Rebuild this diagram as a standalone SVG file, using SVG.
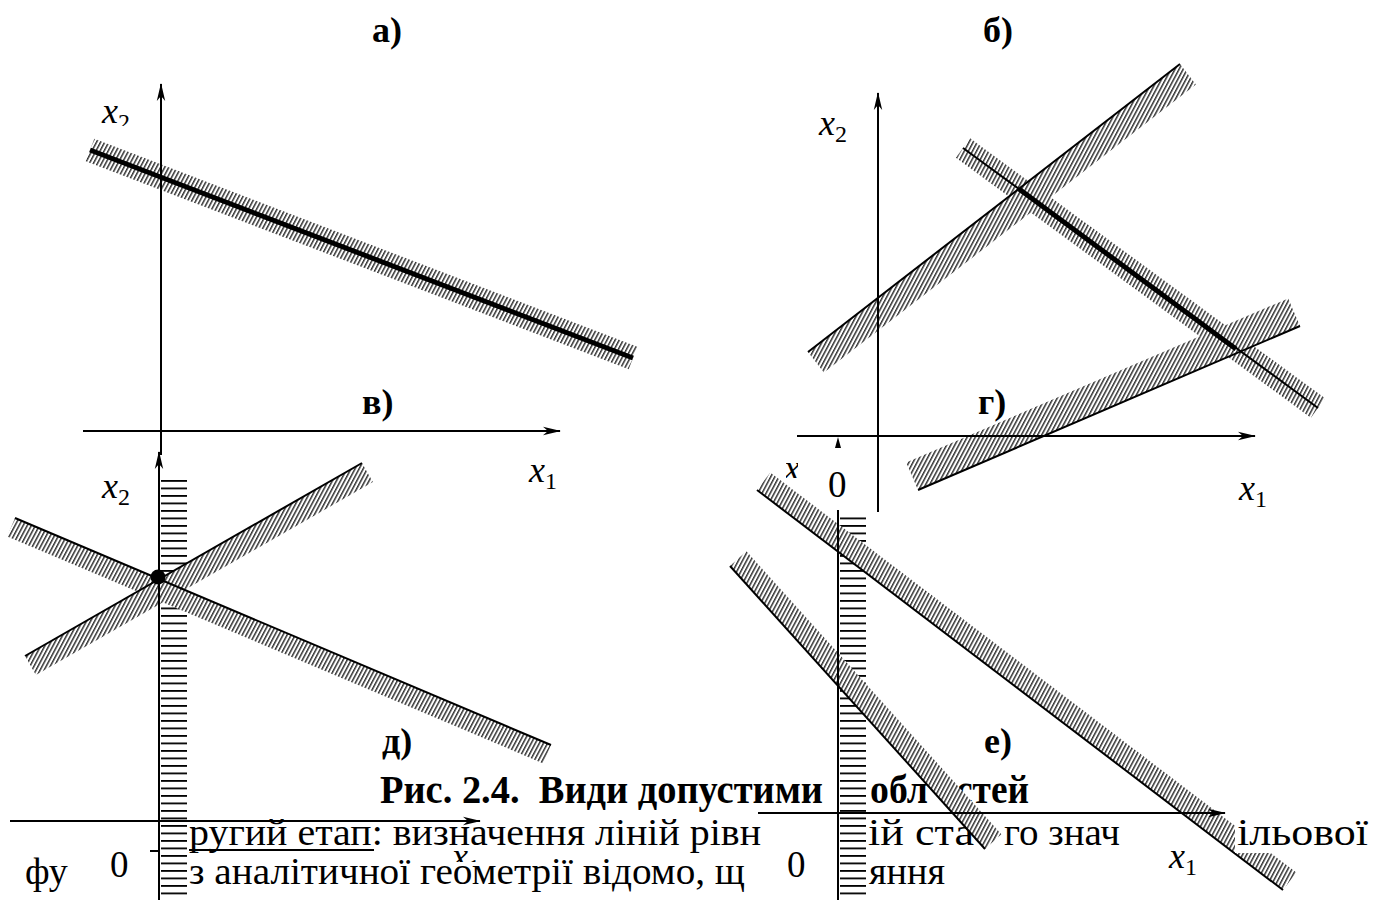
<svg xmlns="http://www.w3.org/2000/svg" width="1374" height="900" viewBox="0 0 1374 900">
<style>
.t{font-family:"Liberation Serif","Times New Roman",serif;fill:#000}
.lab{font-size:36px;font-weight:bold}
.ax{font-size:36px;font-style:italic}
.sub{font-size:24px;font-style:normal}
.num{font-size:37px}
.body{font-size:38px}
.cap{font-size:40px;font-weight:bold;white-space:pre}
.axis{stroke:#000;stroke-width:2;fill:none;marker-end:url(#arr)}
.thin{stroke:#000;stroke-width:2;fill:none}
.thick{stroke:#000;stroke-width:5;fill:none}
.band{fill:url(#h);stroke:none}
.hb{fill:url(#hh);stroke:none}
</style>
<defs>
<marker id="arr" markerWidth="18" markerHeight="10" refX="17" refY="5" orient="auto" markerUnits="userSpaceOnUse"><path d="M0,0.8 L18,5 L0,9.2 L5,5 Z" fill="#000"/></marker>
<pattern id="h" width="3.6" height="10" patternUnits="userSpaceOnUse" patternTransform="rotate(28)"><rect width="3.6" height="10" fill="#fff"/><rect width="1.5" height="10" fill="#333"/></pattern>
<pattern id="hh" width="40" height="7.5" patternUnits="userSpaceOnUse"><rect width="40" height="7.5" fill="#fff"/><rect width="40" height="1.8" fill="#000"/></pattern>
<clipPath id="cx2a"><rect x="95" y="95" width="50" height="31"/></clipPath>
<clipPath id="cx1d"><rect x="445" y="838" width="40" height="24"/></clipPath>
<clipPath id="cxe"><rect x="786" y="462" width="12" height="16"/></clipPath>
</defs>

<!-- Panel а -->
<g id="panel-a">
<polygon class="band" points="94.3,138.8 637.3,346.8 628.7,369.2 85.7,161.2"/>
<line class="axis" x1="161" y1="455" x2="161" y2="84"/>
<line class="axis" x1="83" y1="431" x2="560" y2="431"/>
<line class="thick" x1="90" y1="150" x2="633" y2="358"/>
<text class="t lab" x="372" y="42">а)</text>
<text class="t ax" x="102" y="123" clip-path="url(#cx2a)">x<tspan class="sub" dy="7">2</tspan></text>
<text class="t ax" x="529" y="482">x<tspan class="sub" dy="7">1</tspan></text>
<text class="t lab" x="362" y="414">в)</text>
</g>

<!-- Panel б -->
<g id="panel-b">
<polygon class="band" points="808,352 1180,64 1195.9,84.6 823.9,372.6"/>
<polygon class="band" points="970.1,138.3 1325.1,398.3 1310.9,417.7 955.9,157.7"/>
<polygon class="band" points="918,490 1300,326 1288.2,298.4 906.2,462.4"/>
<line class="axis" x1="878" y1="512" x2="878" y2="93"/>
<line class="axis" x1="797" y1="436" x2="1255" y2="436"/>
<line class="thin" x1="808" y1="352" x2="1180" y2="64"/>
<line class="thin" x1="963" y1="148" x2="1318" y2="408"/>
<line class="thin" x1="918" y1="490" x2="1300" y2="326"/>
<line class="thick" x1="1019" y1="189" x2="1236" y2="349"/>
<text class="t lab" x="983" y="42">б)</text>
<text class="t lab" x="978" y="414">г)</text>
<text class="t ax" x="819" y="135">x<tspan class="sub" dy="7">2</tspan></text>
<text class="t ax" x="1239" y="500">x<tspan class="sub" dy="7">1</tspan></text>
<text class="t num" x="828" y="497">0</text>
</g>

<!-- Text -->
<g id="text">
<text class="t cap" x="380" y="803" textLength="443" lengthAdjust="spacingAndGlyphs">Рис. 2.4.  Види допустими</text>
<text class="t cap" x="870" y="803" textLength="58" lengthAdjust="spacingAndGlyphs">обл</text>
<text class="t cap" x="956" y="803" textLength="73" lengthAdjust="spacingAndGlyphs">стей</text>
<text class="t body" x="189" y="845" textLength="572" lengthAdjust="spacingAndGlyphs">ругий етап: визначення ліній рівн</text>
<line x1="189" y1="850" x2="374" y2="850" stroke="#000" stroke-width="2"/>
<text class="t body" x="868" y="845" textLength="106" lengthAdjust="spacingAndGlyphs">ій ста</text>
<text class="t body" x="1004" y="845" textLength="116" lengthAdjust="spacingAndGlyphs">го знач</text>
<text class="t body" x="25" y="884">фу</text>
<text class="t body" x="189" y="884" textLength="556" lengthAdjust="spacingAndGlyphs">з аналітичної геометрії відомо, щ</text>
<text class="t body" x="869" y="884" textLength="76" lengthAdjust="spacingAndGlyphs">яння</text>
</g>

<!-- Panel в / д -->
<g id="panel-d">
<rect class="hb" x="161" y="476" width="26" height="424"/>
<polygon class="band" points="15,518 551,745 543.2,763.4 7.2,536.4"/>
<polygon class="band" points="25,656 362,463 372.9,482.1 35.9,675.1"/>
<line class="thin" x1="15" y1="518" x2="551" y2="745"/>
<line class="thin" x1="25" y1="656" x2="362" y2="463"/>
<line class="axis" x1="159" y1="900" x2="159" y2="452"/>
<line class="axis" x1="10" y1="821" x2="480" y2="821"/>
<line class="thin" x1="150" y1="851" x2="160" y2="851"/>
<circle cx="158" cy="577" r="7.5" fill="#000"/>
<text class="t ax" x="102" y="498">x<tspan class="sub" dy="7">2</tspan></text>
<text class="t lab" x="382" y="753">д)</text>
<text class="t num" x="110" y="877">0</text>
<text class="t ax" x="452" y="868" clip-path="url(#cx1d)">x<tspan class="sub" dy="7">1</tspan></text>
</g>

<!-- Panel е -->
<g id="panel-e">
<rect class="hb" x="840" y="512" width="26" height="388"/>
<polygon class="band" points="757,490 1283,890 1296.3,872.5 770.3,472.5"/>
<polygon class="band" points="730,566 985,849 1001.4,834.3 746.4,551.3"/>
<line class="thin" x1="757" y1="490" x2="1283" y2="890"/>
<line class="thin" x1="730" y1="566" x2="985" y2="849"/>
<line class="thin" x1="838" y1="510" x2="838" y2="900"/>
<polygon points="835,448 838,437 841,448" fill="#000"/>
<line class="axis" x1="758" y1="813" x2="1225" y2="813"/>
<text class="t lab" x="984" y="753">е)</text>
<text class="t num" x="787" y="877">0</text>
<text class="t ax" x="1169" y="868">x<tspan class="sub" dy="7">1</tspan></text>
<text class="t ax" x="784" y="480" clip-path="url(#cxe)">x</text>
</g>

<g id="text-top">
<rect x="1235" y="820" width="139" height="33" fill="#fff"/>
<text class="t body" x="1237" y="845" textLength="131" lengthAdjust="spacingAndGlyphs">ільової</text>
</g>
</svg>
